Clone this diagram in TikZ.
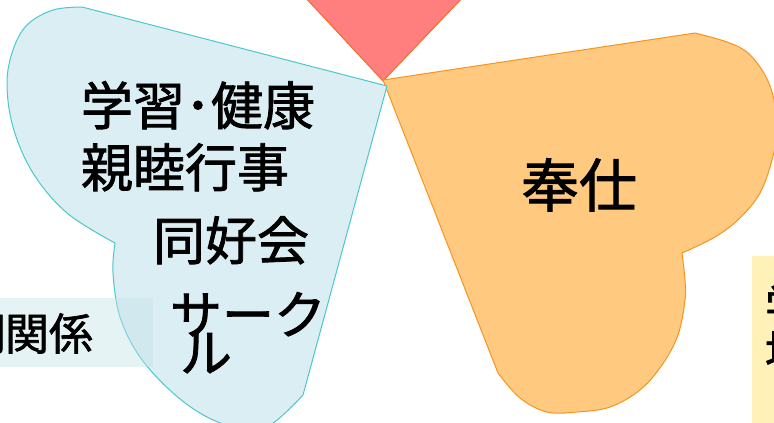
\documentclass[tikz,border=0pt]{standalone}
\usepackage{fontspec}
\newfontfamily\jp[FakeBold=1.5]{Noto Sans CJK JP}
\definecolor{bluefill}{RGB}{219,238,243}
\definecolor{blueline}{RGB}{75,200,204}
\definecolor{orangefill}{RGB}{255,201,127}
\definecolor{orangeline}{RGB}{247,148,30}
\definecolor{redfill}{RGB}{255,127,127}
\definecolor{redline}{RGB}{242,110,40}
\definecolor{boxblue}{RGB}{196,227,232}
\definecolor{boxyellow}{RGB}{255,241,184}
\tikzset{
  blueshape/.style={fill=bluefill, draw=blueline, line width=1pt, line join=round},
  orangeshape/.style={fill=orangefill, draw=orangeline, line width=1pt, line join=round},
  redshape/.style={fill=redfill, draw=redline, line width=1pt, line join=round},
  lbl/.style={inner sep=0pt, outer sep=0pt, text=black, anchor=base west, font=\jp\fontsize{52}{52}\selectfont},
  biglbl/.style={lbl, font=\jp\fontsize{58}{58}\selectfont},
  sidelbl/.style={lbl, font=\jp\fontsize{44}{44}\selectfont},
}
\begin{document}
\begin{tikzpicture}[x=1pt,y=-1pt]
\useasboundingbox (0,0) rectangle (774,423);
\clip (0,0) rectangle (774,423);
% red triangle
\path[redshape] (302,-6) -- (383,81) -- (466,-6) -- cycle;
% orange shape
\path[orangeshape] (383,80) -- (695,33)
  -- plot[smooth, tension=0.6] coordinates {(695,33) (727,42) (748,53) (765,75) (774,100) (777,130) (772,160) (760,193) (740,218) (715,237) (682,253)}
  -- plot[smooth, tension=0.6] coordinates {(682,253) (685,280) (685,300) (678,335) (662,365) (640,390) (610,407) (577,412) (547,412) (520,398) (498,373)}
  -- cycle;
% blue shape
\path[blueshape] (387,86) -- (82,7)
  -- plot[smooth, tension=0.6] coordinates {(82,7) (53,10) (27,25) (13,50) (7,83) (13,127) (33,173) (67,213) (115,243)}
  -- plot[smooth, tension=0.6] coordinates {(115,243) (113,273) (120,317) (140,357) (173,393) (207,417) (240,428) (270,425) (303,395)}
  -- cycle;
% labels in blue shape
\node[lbl] (t1) at (81,125) {学習･健康};
\node[lbl] (t2) at (81,187) {親睦行事};
\node[lbl] (t3) at (153,260) {同好会};
\node[lbl] (t4) at (170,334) {サーク};
\node[lbl] (t5) at (180,372) {ル};
% label in orange shape
\node[biglbl] (t6) at (521,207) {奉仕};
% left box
\fill[boxblue, fill opacity=0.42] (0,298) rectangle (153,367);
\node[sidelbl] (t7a) at (-38,350) {間};
\node[sidelbl] (t7) at (5,350) {関係};
% right box
\fill[boxyellow] (752,256) rectangle (780,430);
\node[sidelbl] (r1) at (765,322) {学};
\node[sidelbl] (r2) at (765,368) {地};
\node[sidelbl] (r3) at (765,446) {人};
\end{tikzpicture}
\end{document}
